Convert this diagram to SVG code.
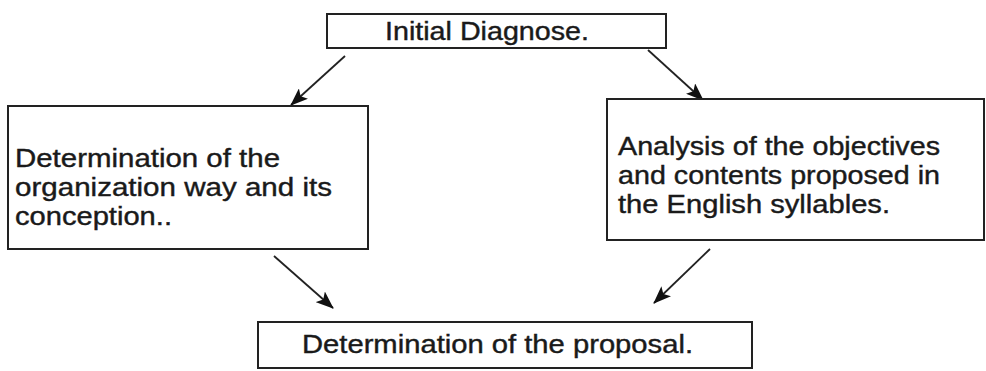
<svg xmlns="http://www.w3.org/2000/svg" width="986" height="371" viewBox="0 0 986 371">
<defs>
<style>
.box{fill:#fff;stroke:#222;stroke-width:2}
.t{font-family:"Liberation Sans",Arial,sans-serif;font-size:25px;fill:#1a1a1a;stroke:#1a1a1a;stroke-width:0.4}
.c{stroke:#222;stroke-width:1.8;fill:none;marker-end:url(#ah)}
</style>
<marker id="ah" markerWidth="18" markerHeight="14" refX="17" refY="7" orient="auto" markerUnits="userSpaceOnUse">
<path d="M0,0 L18,7 L0,14 L4,7 Z" fill="#111"/>
</marker>
</defs>
<rect width="986" height="371" fill="#fff"/>
<g id="connectors">
<line class="c" x1="345" y1="56" x2="291" y2="105"/>
<line class="c" x1="648" y1="50" x2="703" y2="100"/>
<line class="c" x1="274" y1="256" x2="333" y2="308"/>
<line class="c" x1="710" y1="249" x2="654" y2="303"/>
</g>
<g id="n1">
<rect class="box" x="327" y="14" width="339" height="34"/>
<text class="t" x="385" y="40" textLength="204" lengthAdjust="spacingAndGlyphs">Initial Diagnose.</text>
</g>
<g id="n2">
<rect class="box" x="8" y="106" width="360" height="143"/>
<text class="t" x="15" y="167" textLength="265" lengthAdjust="spacingAndGlyphs">Determination of the</text>
<text class="t" x="15" y="196" textLength="317" lengthAdjust="spacingAndGlyphs">organization way and its</text>
<text class="t" x="15" y="225" textLength="157" lengthAdjust="spacingAndGlyphs">conception..</text>
</g>
<g id="n3">
<rect class="box" x="607" y="99" width="377" height="141"/>
<text class="t" x="618" y="155" textLength="322" lengthAdjust="spacingAndGlyphs">Analysis of the objectives</text>
<text class="t" x="618" y="184" textLength="322" lengthAdjust="spacingAndGlyphs">and contents proposed in</text>
<text class="t" x="618" y="213" textLength="272" lengthAdjust="spacingAndGlyphs">the English syllables.</text>
</g>
<g id="n4">
<rect class="box" x="258" y="322" width="494" height="46"/>
<text class="t" x="302" y="353" textLength="391" lengthAdjust="spacingAndGlyphs">Determination of the proposal.</text>
</g>
</svg>
